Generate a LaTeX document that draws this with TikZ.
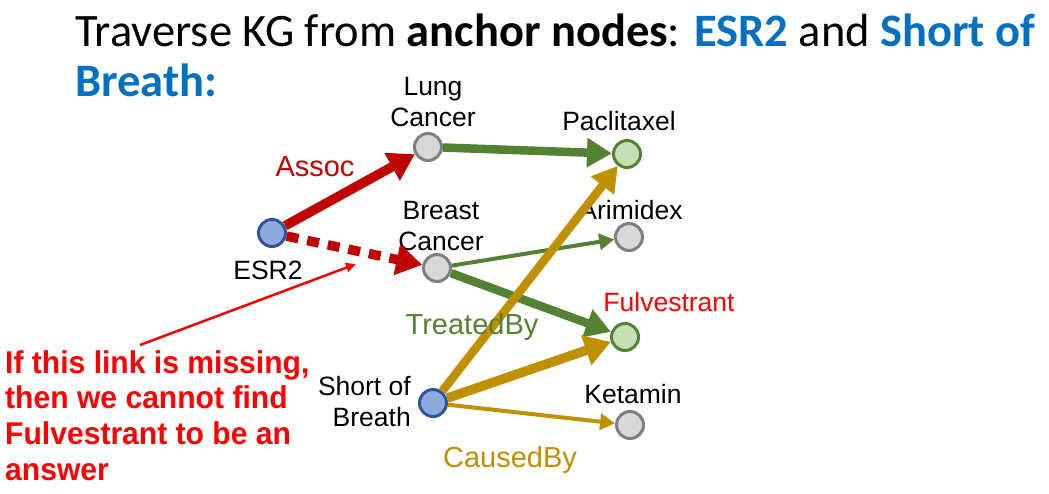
\documentclass[tikz,border=0pt]{standalone}
\usepackage{fontspec}
\usepackage{graphicx}
\setmainfont{Liberation Sans}
\newfontfamily\titlefont{Carlito}
\usetikzlibrary{arrows.meta}
\definecolor{assocred}{HTML}{C00000}
\definecolor{treatgreen}{HTML}{548235}
\definecolor{causegold}{HTML}{BF9000}
\definecolor{titleblue}{HTML}{0070C0}
\definecolor{anchorfill}{HTML}{8FAADC}
\definecolor{anchorline}{HTML}{2F5597}
\definecolor{plainfill}{HTML}{D9D9D9}
\definecolor{plainline}{HTML}{7F7F7F}
\definecolor{drugfill}{HTML}{C5E0B4}
\definecolor{drugline}{HTML}{548235}
\definecolor{noteRed}{HTML}{FF0000}
\begin{document}
\begin{tikzpicture}[x=1pt,y=-1pt,
  kgnode/.style={circle,minimum size=27pt,inner sep=0pt,line width=3pt},
  anchornode/.style={kgnode,draw=anchorline,fill=anchorfill},
  plainnode/.style={kgnode,draw=plainline,fill=plainfill},
  drugnode/.style={kgnode,draw=drugline,fill=drugfill},
  lbl/.style={font=\fontsize{26.5}{31}\selectfont,align=center,inner sep=0pt},
  edgelbl/.style={font=\fontsize{29}{32}\selectfont,inner sep=0pt},
  heavy/.style={line width=9.5pt,-{Triangle[length=26pt,width=30pt]}},
  medium/.style={line width=8.5pt,-{Triangle[length=25pt,width=28pt]}},
  light/.style={line width=4pt,-{Triangle[length=15pt,width=16pt]}}
]
\useasboundingbox[fill=white] (0,0) rectangle (1049,493);

% heading
\node[anchor=west,inner sep=0pt,font=\titlefont\fontsize{46.5}{52}\selectfont] (title1) at (75,30)
  {Traverse KG from \textbf{anchor nodes}: \textcolor{titleblue}{\textbf{ESR2}} and \textcolor{titleblue}{\textbf{Short of}}};
\node[anchor=west,inner sep=0pt,font=\titlefont\fontsize{46.5}{52}\selectfont,text=titleblue] (title2) at (75,80)
  {\textbf{Breath:}};

% graph nodes
\node[anchornode] (esr) at (272,233) {};
\node[plainnode] (lung) at (428,147) {};
\node[plainnode] (breast) at (437,268) {};
\node[drugnode] (pacl) at (627,154) {};
\node[plainnode] (arim) at (629,237) {};
\node[drugnode] (fulv) at (625,337) {};
\node[anchornode] (sob) at (433,403) {};
\node[plainnode] (ket) at (630,425) {};

% node labels
\node[lbl] (lungL) at (433,102) {Lung\\Cancer};
\node[lbl] (paclL) at (619,121) {Paclitaxel};
\node[lbl] (breastL) at (441,226) {Breast\\Cancer};
\node[lbl] (arimL) at (631,210) {Arimidex};
\node[lbl] (esrL) at (268,270) {ESR2};
\node[lbl,text=noteRed] (fulvL) at (669,302) {Fulvestrant};
\node[lbl,align=right,anchor=east] (sobL) at (411,402) {Short of\\Breath};
\node[lbl] (ketL) at (633,394) {Ketamin};

% relations
\draw[heavy,assocred] (esr) -- (lung);
\draw[heavy,assocred,dash pattern=on 12pt off 9pt] (esr) -- (breast);
\draw[medium,treatgreen] (lung) -- (pacl);
\draw[light,treatgreen] (breast) -- (arim);
\draw[medium,treatgreen] (breast) -- (fulv);
\draw[medium,causegold] (sob) -- (pacl);
\draw[heavy,causegold] (sob) -- (fulv);
\draw[light,causegold] (sob) -- (ket);

% relation labels
\node[edgelbl,text=assocred] (assocL) at (315,167) {Assoc};
\node[edgelbl,text=treatgreen] (treatL) at (472,327) {TreatedBy};
\node[edgelbl,text=causegold] (causeL) at (510,460) {CausedBy};

% note about the missing link
\node[anchor=north west,inner sep=0pt,align=left,text=noteRed,
      font=\fontsize{31.5}{35.7}\selectfont\bfseries] (note) at (5,350)
  {\scalebox{0.955}[1]{If this link is missing,}\\
   \scalebox{0.955}[1]{then we cannot find}\\
   \scalebox{0.955}[1]{Fulvestrant to be an}\\
   \scalebox{0.955}[1]{answer}};
\coordinate (noteStart) at (140,345);
\coordinate (noteEnd) at (356,264);
\draw[noteRed,line width=2.5pt,-{Triangle[length=10pt,width=9pt]}] (noteStart) -- (noteEnd);
\end{tikzpicture}
\end{document}
